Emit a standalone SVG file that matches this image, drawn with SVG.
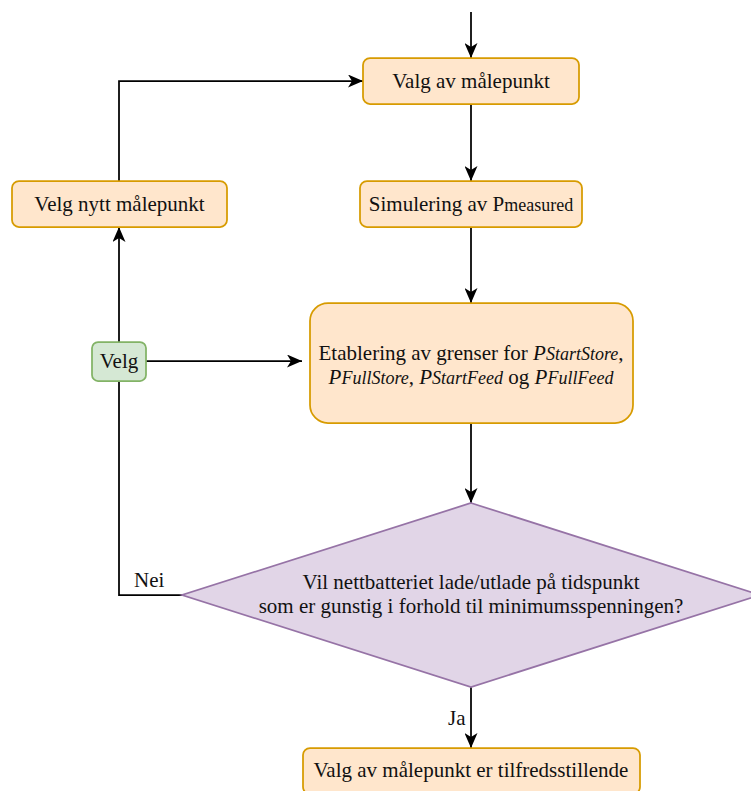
<svg xmlns="http://www.w3.org/2000/svg" width="751" height="791" viewBox="0 0 751 791">
  <style>
    .proc { fill: #ffe6cc; stroke: #d79b00; stroke-width: 1.75; }
    .pick { fill: #d5e8d4; stroke: #82b366; stroke-width: 1.75; }
    .dec  { fill: #e1d5e7; stroke: #9673a6; stroke-width: 1.75; }
    .edge { fill: none; stroke: #000; stroke-width: 1.75; }
    text  { font-family: "Liberation Serif", "Times New Roman", serif; font-size: 21px; fill: #111; text-anchor: middle; }
    .lbl  { text-anchor: start; }
    .sub  { font-size: 18px; }
    .it   { font-style: italic; }
  </style>
  <defs>
    <marker id="arrow" viewBox="0 0 15 13" refX="15" refY="6.5" markerWidth="15" markerHeight="13" markerUnits="userSpaceOnUse" orient="auto">
      <path d="M0,0 L15,6.5 L0,13 L4,6.5 Z" fill="#000"/>
    </marker>
  </defs>

  <!-- connectors -->
  <g id="connectors">
    <path class="edge" d="M471,12 L471,58" marker-end="url(#arrow)"/>
    <path class="edge" d="M471,104 L471,181" marker-end="url(#arrow)"/>
    <path class="edge" d="M471,227 L471,303" marker-end="url(#arrow)"/>
    <path class="edge" d="M471,423 L471,503" marker-end="url(#arrow)"/>
    <path class="edge" d="M471,687 L471,748" marker-end="url(#arrow)"/>
    <path class="edge" d="M182,595 L119,595 L119,227" marker-end="url(#arrow)"/>
    <path class="edge" d="M119,181 L119,81 L363,81" marker-end="url(#arrow)"/>
    <path class="edge" d="M146,361 L302,361" marker-end="url(#arrow)"/>
    <text class="lbl" x="134" y="587">Nei</text>
    <text class="lbl" x="448" y="725">Ja</text>
  </g>

  <g id="valg-malepunkt">
    <rect class="proc" x="363" y="58" width="216" height="46" rx="7"/>
    <text x="471" y="88">Valg av målepunkt</text>
  </g>

  <g id="simulering">
    <rect class="proc" x="360" y="181" width="222" height="46" rx="7"/>
    <text x="471" y="211">Simulering av P<tspan class="sub">measured</tspan></text>
  </g>

  <g id="velg-nytt">
    <rect class="proc" x="12" y="181" width="215" height="46" rx="7"/>
    <text x="119.5" y="211">Velg nytt målepunkt</text>
  </g>

  <g id="velg">
    <rect class="pick" x="92" y="342" width="54" height="39" rx="6"/>
    <text x="119" y="368">Velg</text>
  </g>

  <g id="grenser">
    <rect class="proc" x="310" y="303" width="323" height="120" rx="18"/>
    <text x="471" y="360">Etablering av grenser for <tspan class="it">P<tspan class="sub">StartStore</tspan></tspan>,</text>
    <text x="471" y="384"><tspan class="it">P<tspan class="sub">FullStore</tspan></tspan>, <tspan class="it">P<tspan class="sub">StartFeed</tspan></tspan> og <tspan class="it">P<tspan class="sub">FullFeed</tspan></tspan></text>
  </g>

  <g id="beslutning">
    <polygon class="dec" points="471,503 760,595 471,687 182,595"/>
    <text x="471" y="589">Vil nettbatteriet lade/utlade på tidspunkt</text>
    <text x="471" y="613">som er gunstig i forhold til minimumsspenningen?</text>
  </g>

  <g id="tilfredsstillende">
    <rect class="proc" x="303" y="748" width="337" height="46" rx="7"/>
    <text x="471" y="777">Valg av målepunkt er tilfredsstillende</text>
  </g>
</svg>
